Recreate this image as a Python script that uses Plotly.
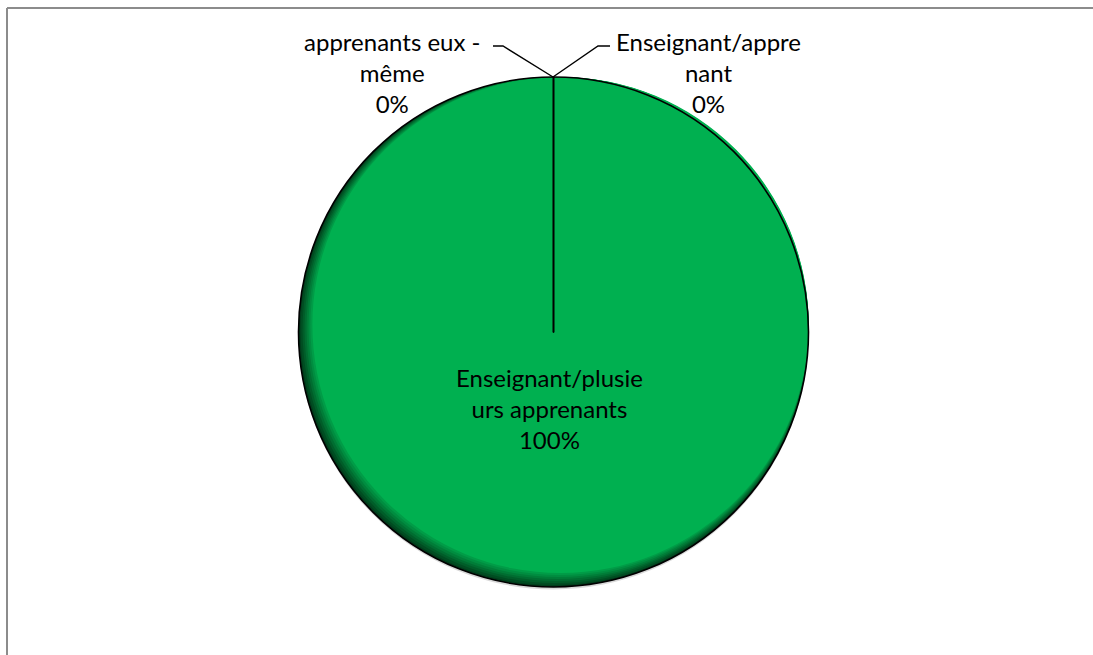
import plotly.graph_objects as go

W, H = 1093, 655

labels = ["Enseignant/apprenant", "Enseignant/plusieurs apprenants", "apprenants eux -même"]
wrapped = ["Enseignant/appre<br>nant", "Enseignant/plusie<br>urs apprenants", "apprenants eux -<br>même"]
values = [0, 100, 0]

GREEN = "#00B050"
FONT = dict(family="Lato, Arial, sans-serif", size=24, color="#000000")

# pie geometry in pixels (center x, center y, radius)
CX, CY, R = 553.5, 332.0, 255.0


def dom(cx, cy, r):
    return dict(x=[(cx - r) / W, (cx + r) / W], y=[1 - (cy + r) / H, 1 - (cy - r) / H])


def P(x, y):
    return x / W, 1 - y / H


fig = go.Figure()

# soft drop shadow under the disc
fig.add_trace(go.Pie(
    values=values, labels=labels, sort=False, direction="clockwise", rotation=0,
    domain=dom(CX, CY + 2.5, R), textinfo="none", hoverinfo="skip",
    marker=dict(colors=["rgba(0,0,0,0.15)"] * 3, line=dict(width=0)),
))

# inner shading layers (dark rim on the left / bottom)
shade = [(0, "#003d1b"), (1, "#004d22"), (2, "#005d29"), (3, "#006d31"),
         (4, "#007d38"), (5, "#008d40"), (6, "#009c47"), (7, GREEN)]
for s, col in shade:
    fig.add_trace(go.Pie(
        values=values, labels=labels, sort=False, direction="clockwise", rotation=0,
        domain=dom(CX + s, CY - s, R - s), textinfo="none", hoverinfo="skip",
        marker=dict(colors=[col] * 3, line=dict(width=0)),
    ))

# outlines and slice borders
fig.add_trace(go.Pie(
    values=values, labels=labels, sort=False, direction="clockwise", rotation=0,
    domain=dom(CX, CY, R), textinfo="none", hoverinfo="label+percent",
    marker=dict(colors=["rgba(0,0,0,0)"] * 3, line=dict(color="#000000", width=1.6)),
))

total = sum(values)
pct = [f"{v / total * 100:.0f}%" for v in values]

# label positions (px)
label_pos = [(708, 73), (549, 408), (392, 73)]
for txt, p, (x, y) in zip(wrapped, pct, label_pos):
    ax, ay = P(x, y)
    fig.add_annotation(x=ax, y=ay, xref="paper", yref="paper", text=f"{txt}<br>{p}",
                       showarrow=False, font=FONT, align="center",
                       xanchor="center", yanchor="middle")

# leader lines
def path(points):
    pts = [P(x, y) for x, y in points]
    return "M" + " L".join(f"{x},{y}" for x, y in pts)

for pts in [[(493, 46), (503, 46), (553, 77)], [(553, 77), (598, 46), (610, 46)]]:
    fig.add_shape(type="path", xref="paper", yref="paper", path=path(pts),
                  line=dict(color="#000000", width=1.4))

# chart frame (top and left edges visible)
x0, y0 = P(7, 8)
fig.add_shape(type="line", xref="paper", yref="paper", x0=x0, y0=y0, x1=1.05, y1=y0,
              line=dict(color="#8c8c8c", width=2))
fig.add_shape(type="line", xref="paper", yref="paper", x0=x0, y0=y0, x1=x0, y1=-0.05,
              line=dict(color="#8c8c8c", width=2))

fig.update_layout(
    width=W, height=H,
    margin=dict(l=0, r=0, t=0, b=0),
    paper_bgcolor="#FFFFFF",
    plot_bgcolor="#FFFFFF",
    showlegend=False,
)

fig.write_html("out.html", config={"displayModeBar": False},
               post_script="document.body.style.margin='0';")
